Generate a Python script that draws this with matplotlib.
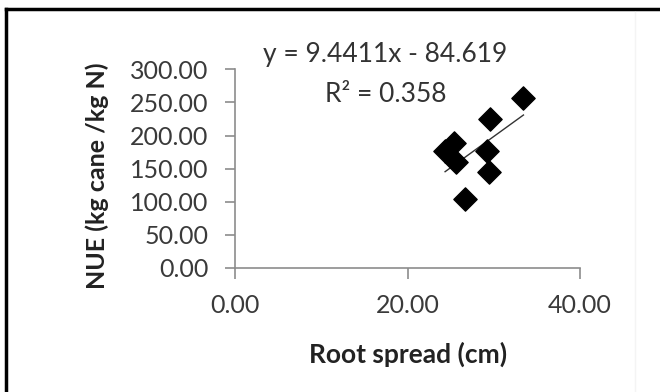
import numpy as np
import matplotlib
matplotlib.use("Agg")
import matplotlib.pyplot as plt
from matplotlib.lines import Line2D

# root spread (cm) vs nitrogen use efficiency
root_spread = [24.35, 25.39, 25.62, 26.67, 29.18, 29.45, 29.57, 33.43]
nue = [176.0, 188.7, 159.5, 103.4, 177.1, 144.4, 225.7, 256.4]

slope = 9.4411
intercept = -84.619
r_squared = 0.358

x_ticks = [0, 20, 40]
y_ticks = [0, 50, 100, 150, 200, 250, 300]

plt.rcParams['font.family'] = ['Lato', 'DejaVu Sans']

fig = plt.figure(figsize=(6.6, 3.92), dpi=100)
ax = fig.add_axes([0.356, 0.317, 0.523, 0.506])

ax.scatter(root_spread, nue, marker='D', s=140, color='black', zorder=3)

# linear trendline over the range of the data
xs = np.array([min(root_spread), max(root_spread)])
ax.plot(xs, slope * xs + intercept, color='#333333', linewidth=1.0, zorder=2)

ax.set_xlim(0, 40)
ax.set_ylim(0, 300)
ax.set_xticks(x_ticks)
ax.set_yticks(y_ticks)
ax.set_xticklabels([f"{v:.2f}" for v in x_ticks])
ax.set_yticklabels([f"{v:.2f}" for v in y_ticks])

for side in ['top', 'right']:
    ax.spines[side].set_visible(False)
for side in ['left', 'bottom']:
    ax.spines[side].set_color('#8c8c8c')
    ax.spines[side].set_linewidth(1.2)
ax.tick_params(axis='both', colors='#8c8c8c', labelcolor='#3a3a3a',
               labelsize=18, width=1.2)
ax.tick_params(axis='x', length=8, pad=11)
ax.tick_params(axis='y', length=7, pad=12)

ax.set_xlabel("Root spread (cm)", fontsize=19, fontweight='bold',
              color='#222222', va='center')
ax.set_ylabel("NUE (kg cane /kg N)", fontsize=18, fontweight='bold',
              color='#222222', va='center')
ax.xaxis.set_label_coords(0.501, -0.437)
ax.yaxis.set_label_coords(-0.40, 0.462)

sign = '-' if intercept < 0 else '+'
fig.text(0.583, 0.86, f"y = {slope}x {sign} {abs(intercept)}", ha='center',
         va='center', fontsize=19, color='#333333')
fig.text(0.585, 0.758, f"R\u00b2 = {r_squared}", ha='center', va='center',
         fontsize=19, color='#333333')

# frame around the chart area
fig.add_artist(Line2D([0.009, 1.0], [0.977, 0.977], color='black', linewidth=2.5,
                      transform=fig.transFigure))
fig.add_artist(Line2D([0.009, 0.009], [0.0, 0.977], color='black', linewidth=2.5,
                      transform=fig.transFigure))
fig.add_artist(Line2D([0.962, 0.962], [0.0, 0.97], color='#f4f4f4', linewidth=1.0,
                      transform=fig.transFigure))

fig.savefig("out.png", dpi=100)
